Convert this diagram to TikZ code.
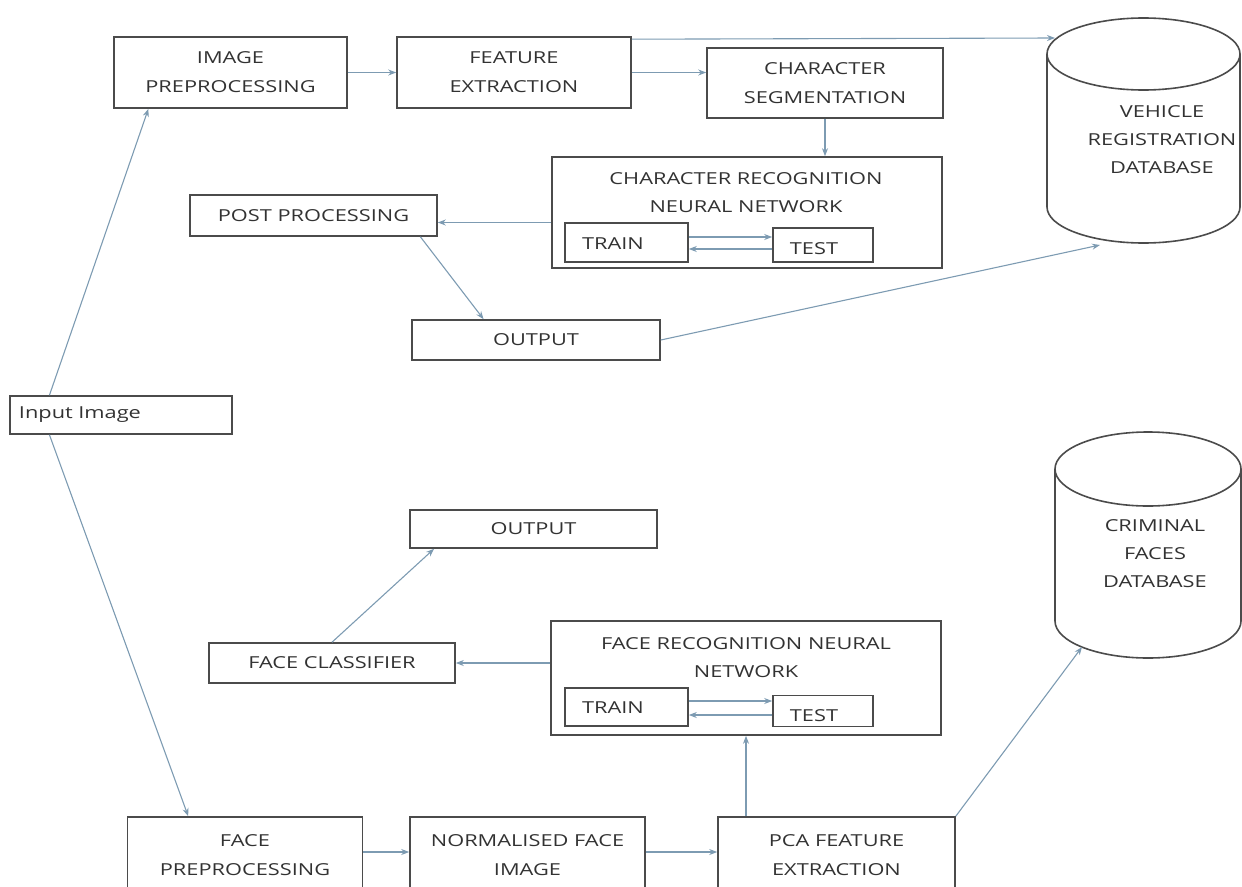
\documentclass[tikz,border=0pt]{standalone}
\usepackage{fontspec}
\setmainfont{Open Sans}[FakeStretch=1.32]
\usetikzlibrary{arrows.meta,calc}
\definecolor{arr}{RGB}{125,155,178}
\definecolor{bx}{RGB}{75,75,75}
\definecolor{tx}{RGB}{50,50,50}
\begin{document}
\begin{tikzpicture}[x=1pt,y=-1pt,
  box/.style={draw=bx, line width=1.6pt, inner sep=0pt, align=center,
    font=\fontsize{16.5}{29}\selectfont, text=tx},
  lbl/.style={inner sep=0pt, align=center, font=\fontsize{16.5}{28}\selectfont, text=tx},
  conn/.style={draw=arr, line width=1.1pt, -{Stealth[length=8pt,width=6pt]}},
  dbline/.style={draw=bx, line width=1.6pt},
]
\useasboundingbox (0,0) rectangle (1242,886);

% ---- top branch ----
\node[box, minimum width=233, minimum height=71] (ip) at (230.5,72.5) {IMAGE\\PREPROCESSING};
\node[box, minimum width=234, minimum height=71] (fe) at (514,72.5) {FEATURE\\EXTRACTION};
\node[box, minimum width=236, minimum height=70] (cs) at (825,83) {CHARACTER\\SEGMENTATION};
\node[box, minimum width=390, minimum height=111] (crnn) at (747,212.5) {};
\node[lbl] (crnnt) at (746,193) {CHARACTER RECOGNITION\\NEURAL NETWORK};
\node[box, minimum width=123, minimum height=39] (tr1) at (626.5,242.5) {};
\node[lbl] (tr1t) at (613,244) {TRAIN};
\node[box, minimum width=100, minimum height=34] (te1) at (823,245) {};
\node[lbl] (te1t) at (814,249) {TEST};
\node[box, minimum width=247, minimum height=41] (pp) at (313.5,215.5) {POST PROCESSING};
\node[box, minimum width=248, minimum height=40] (out1) at (536,340) {OUTPUT};

% vehicle database cylinder
\node[inner sep=0pt, minimum width=193, minimum height=225] (vdb) at (1143.5,130.5) {};
\draw[dbline] (1143.5,54) ellipse [x radius=96.5, y radius=36];
\draw[dbline] (1047,54) -- (1047,207) arc[start angle=180, end angle=0, x radius=96.5, y radius=36] -- (1240,54);
\node[lbl] (vdbt) at (1162,140) {VEHICLE\\REGISTRATION\\DATABASE};
\coordinate (vdbin1) at (1055,38);
\coordinate (vdbin2) at (1100,245);

% input
\node[box, minimum width=222, minimum height=38, text width=204, align=left] (in) at (121,415) {Input Image};

% ---- bottom branch ----
\node[box, minimum width=247, minimum height=38] (out2) at (533.5,529) {OUTPUT};
\node[box, minimum width=246, minimum height=40] (fc) at (332,663) {FACE CLASSIFIER};
\node[box, minimum width=390, minimum height=114] (frnn) at (746,678) {};
\node[lbl] (frnnt) at (746,658) {FACE RECOGNITION NEURAL\\NETWORK};
\node[box, minimum width=123, minimum height=38] (tr2) at (626.5,707) {};
\node[lbl] (tr2t) at (613,708) {TRAIN};
\node[box, minimum width=100, minimum height=31] (te2) at (823,711) {};
\node[lbl] (te2t) at (814,716) {TEST};

% criminal database cylinder
\node[inner sep=0pt, minimum width=186, minimum height=226] (cdb) at (1148,545) {};
\draw[dbline] (1148,469) ellipse [x radius=93, y radius=37];
\draw[dbline] (1055,469) -- (1055,621) arc[start angle=180, end angle=0, x radius=93, y radius=37] -- (1241,469);
\node[lbl] (cdbt) at (1155,554) {CRIMINAL\\FACES\\DATABASE};
\coordinate (cdbin) at (1082,647);

\node[box, minimum width=235, minimum height=76] (fp) at (245,855) {FACE\\PREPROCESSING};
\node[box, minimum width=235, minimum height=76] (nf) at (527.5,855) {NORMALISED FACE\\IMAGE};
\node[box, minimum width=237, minimum height=76] (pca) at (836.5,855) {PCA FEATURE\\EXTRACTION};

% ---- connectors ----
\draw[conn] ($(in.north west)!0.18!(in.north east)$) -- ($(ip.south west)!0.15!(ip.south east)$);
\draw[conn] ($(in.south west)!0.18!(in.south east)$) -- ($(fp.north west)!0.26!(fp.north east)$);
\draw[conn] (ip.east) -- (ip.east -| fe.west);
\draw[conn] (fe.east) -- (fe.east -| cs.west);
\draw[conn] ($(fe.north east)+(0,3)$) -- (vdbin1);
\draw[conn] (cs.south) -- (cs.south |- crnn.north);
\draw[conn] ($(crnn.west)+(0,10)$) -- ($(crnn.west -| pp.east)+(0,10)$);
\draw[conn] ($(tr1.east)+(0,-5.5)$) -- ($(tr1.east -| te1.west)+(0,-5.5)$);
\draw[conn] ($(te1.west)+(0,4)$) -- ($(te1.west -| tr1.east)+(0,4)$);
\draw[conn] ($(pp.south west)!0.93!(pp.south east)$) -- ($(out1.north west)!0.29!(out1.north east)$);
\draw[conn] (out1.east) -- (vdbin2);

\draw[conn] (fc.north) -- ($(out2.south west)!0.1!(out2.south east)$);
\draw[conn] (frnn.west |- fc.east) -- (fc.east);
\draw[conn] ($(tr2.east)+(0,-6)$) -- ($(tr2.east -| te2.west)+(0,-6)$);
\draw[conn] ($(te2.west)+(0,4)$) -- ($(te2.west -| tr2.east)+(0,4)$);
\draw[conn] (pca.north -| frnn.south) -- (frnn.south);
\draw[conn] (pca.north east) -- (cdbin);
\draw[conn] ($(fp.east)+(0,-3)$) -- ($(fp.east -| nf.west)+(0,-3)$);
\draw[conn] ($(nf.east)+(0,-3)$) -- ($(nf.east -| pca.west)+(0,-3)$);
\end{tikzpicture}
\end{document}
